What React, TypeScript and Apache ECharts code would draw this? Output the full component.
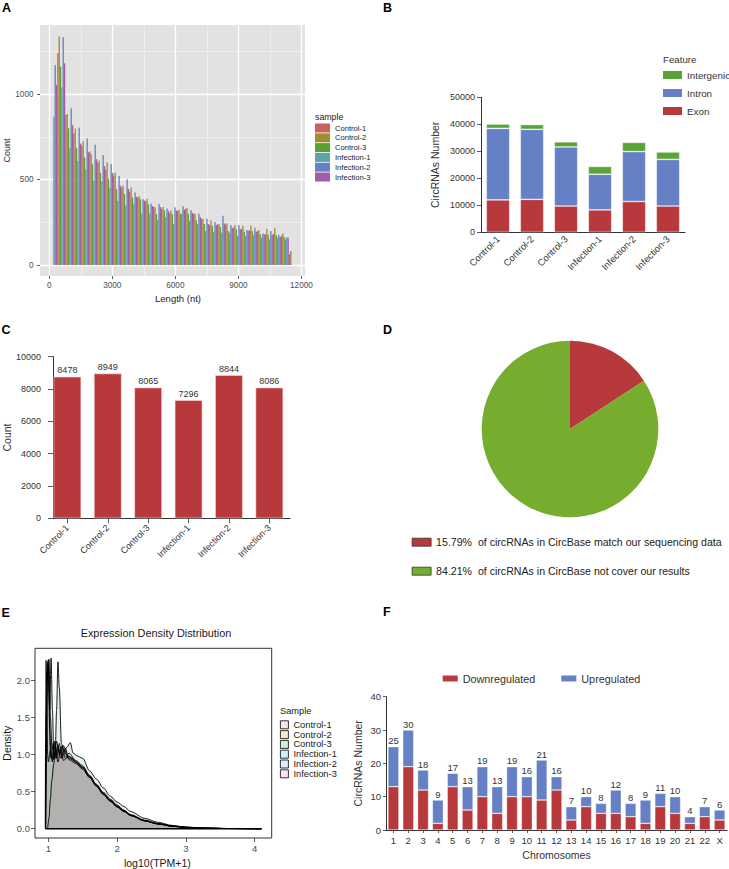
import React, { useEffect, useRef } from 'react';
import * as echarts from 'echarts';

const FONT = 'Liberation Sans, Arial, Helvetica, sans-serif';

// ---------- Panel A: length histogram (30 bins, dodged by sample) ----------
const SAMPLES = ['Control-1', 'Control-2', 'Control-3', 'Infection-1', 'Infection-2', 'Infection-3'];
const A_COLORS = ['#C9625E', '#A08D2B', '#5AA035', '#5BA6A4', '#6780C7', '#A25DA6'];
const A_SLOT = [3, 4, 5, 0, 1, 2];
const BIN_START = 190;
const BIN_WIDTH = 380;
const A_C1 = [1240, 879, 770, 700, 665, 600, 560, 525, 455, 430, 395, 372, 342, 330, 305, 318, 330, 300, 272, 235, 238, 238, 220, 212, 205, 198, 180, 182, 172, 64];
const A_C2 = [1338, 885, 800, 725, 650, 612, 600, 540, 465, 455, 405, 388, 338, 340, 320, 322, 335, 300, 270, 262, 240, 245, 235, 230, 230, 205, 212, 215, 185, 82];
const A_C3 = [1162, 801, 685, 630, 590, 540, 505, 445, 415, 395, 385, 355, 300, 320, 298, 300, 300, 262, 240, 230, 225, 200, 210, 195, 200, 180, 178, 175, 165, 0];
const A_I1 = [869, 1040, 685, 610, 560, 495, 490, 450, 375, 350, 360, 300, 300, 265, 280, 240, 300, 260, 240, 200, 195, 190, 190, 170, 170, 175, 160, 150, 160, 150];
const A_I2 = [1172, 1334, 918, 805, 742, 705, 645, 592, 521, 502, 425, 385, 361, 357, 332, 338, 344, 322, 300, 271, 252, 289, 234, 234, 205, 219, 185, 199, 178, 162];
const A_I3 = [1055, 1182, 820, 712, 660, 620, 580, 540, 465, 445, 400, 378, 345, 340, 318, 318, 325, 305, 280, 240, 235, 245, 215, 210, 200, 195, 180, 178, 165, 160];
const A_COUNTS = [A_C1, A_C2, A_C3, A_I1, A_I2, A_I3];
const A_X_TICKS = [0, 3000, 6000, 9000, 12000];
const A_X_MINOR = [1500, 4500, 7500, 10500];
const A_Y_TICKS = [0, 500, 1000];
const A_Y_MINOR = [250, 750, 1250];

// ---------- Panel B: feature composition ----------
const B_FEATURES = ['Intergenic', 'Intron', 'Exon'];
const B_COLORS = { Exon: '#B8393B', Intron: '#6580C4', Intergenic: '#5AA335' };
const B_EXON = [12000, 12200, 9750, 8300, 11400, 9750];
const B_INTRON = [26500, 25950, 21850, 13200, 18500, 17250];
const B_INTERGENIC = [1600, 1750, 1900, 2900, 3400, 2750];

// ---------- Panel C: counts ----------
const C_HEIGHT = [8760, 8960, 8090, 7310, 8860, 8090];
const C_LABEL = [8478, 8949, 8065, 7296, 8844, 8086];
const C_POS = [0, 1, 2, 3, 4, 5];

// ---------- Panel D: CircBase overlap ----------
const D_PERCENT = [15.79, 84.21];
const D_TEXT = ['of circRNAs in CircBase match our sequencing data', 'of circRNAs in CircBase not cover our results'];
const D_COLORS = ['#B8393B', '#76AD2F'];

// ---------- Panel E: expression density ----------
const E_C1 = [[0.955, 0], [0.96, 1.2], [0.967, 2.27], [0.975, 1.9], [0.99, 1.0], [1.0, 0.9], [1.03, 1.05], [1.06, 0.95], [1.1, 1.15], [1.14, 0.9], [1.18, 1.1], [1.22, 0.92], [1.3, 0.98], [1.4, 0.9], [1.5, 0.82], [1.6, 0.7], [1.7, 0.58], [1.8, 0.47], [1.9, 0.38], [2.0, 0.3], [2.1, 0.24], [2.2, 0.18], [2.4, 0.11], [2.6, 0.065], [2.8, 0.035], [3.0, 0.018], [3.3, 0.007], [3.6, 0.003], [4.1, 0]];
const E_C2 = [[0.96, 0], [0.97, 1.5], [0.98, 2.1], [0.99, 2.2], [1.0, 2.0], [1.02, 1.6], [1.04, 2.3], [1.06, 1.6], [1.08, 0.95], [1.12, 1.18], [1.16, 1.0], [1.2, 1.12], [1.25, 0.95], [1.3, 1.02], [1.4, 0.92], [1.5, 0.85], [1.6, 0.72], [1.7, 0.6], [1.8, 0.49], [1.9, 0.4], [2.0, 0.32], [2.1, 0.25], [2.2, 0.19], [2.4, 0.115], [2.6, 0.07], [2.8, 0.038], [3.0, 0.02], [3.3, 0.008], [3.6, 0.003], [4.1, 0]];
const E_C3 = [[0.96, 0], [0.975, 1.8], [0.99, 2.25], [1.0, 2.2], [1.02, 1.3], [1.04, 0.95], [1.07, 1.15], [1.1, 0.95], [1.14, 1.12], [1.18, 0.95], [1.22, 1.05], [1.3, 0.95], [1.4, 0.9], [1.5, 0.83], [1.6, 0.71], [1.7, 0.59], [1.8, 0.48], [1.9, 0.39], [2.0, 0.31], [2.1, 0.245], [2.2, 0.185], [2.4, 0.11], [2.6, 0.068], [2.8, 0.036], [3.0, 0.019], [3.3, 0.007], [3.6, 0.003], [4.1, 0]];
const E_I1 = [[0.96, 0], [0.97, 1.0], [0.99, 2.1], [1.01, 2.28], [1.03, 1.5], [1.06, 0.92], [1.1, 1.0], [1.12, 1.6], [1.14, 2.25], [1.16, 1.9], [1.19, 1.15], [1.23, 1.05], [1.27, 1.1], [1.32, 1.16], [1.36, 1.02], [1.42, 0.98], [1.5, 0.95], [1.6, 0.78], [1.7, 0.67], [1.8, 0.55], [1.9, 0.44], [2.0, 0.36], [2.1, 0.3], [2.2, 0.23], [2.4, 0.14], [2.6, 0.085], [2.8, 0.045], [3.0, 0.022], [3.3, 0.009], [3.6, 0.003], [4.1, 0]];
const E_I2 = [[0.96, 0], [0.98, 2.0], [1.0, 2.28], [1.01, 2.0], [1.03, 1.0], [1.06, 0.9], [1.09, 1.18], [1.12, 0.95], [1.16, 1.15], [1.2, 0.95], [1.25, 1.08], [1.3, 0.93], [1.4, 0.88], [1.5, 0.8], [1.6, 0.69], [1.7, 0.57], [1.8, 0.46], [1.9, 0.37], [2.0, 0.29], [2.1, 0.23], [2.2, 0.175], [2.4, 0.105], [2.6, 0.062], [2.8, 0.033], [3.0, 0.017], [3.3, 0.007], [3.6, 0.002], [4.1, 0]];
const E_I3 = [[0.99, 0], [1.01, 0.15], [1.03, 0.4], [1.05, 0.65], [1.08, 0.88], [1.1, 1.0], [1.14, 1.08], [1.18, 1.0], [1.22, 1.12], [1.28, 0.98], [1.35, 0.95], [1.4, 0.9], [1.5, 0.82], [1.6, 0.7], [1.7, 0.58], [1.8, 0.47], [1.9, 0.38], [2.0, 0.3], [2.1, 0.235], [2.2, 0.18], [2.4, 0.105], [2.6, 0.063], [2.8, 0.034], [3.0, 0.018], [3.3, 0.007], [3.6, 0.003], [4.1, 0]];
const E_CURVES = [E_C1, E_C2, E_C3, E_I1, E_I2, E_I3];
const E_KEY_HUES = ['248,118,109', '183,159,0', '0,186,56', '0,191,196', '97,156,255', '245,100,227'];
const E_AREA = ['rgba(180,120,110,0.25)', 'rgba(160,150,90,0.25)', 'rgba(110,160,110,0.25)', 'rgba(100,175,175,0.25)', 'rgba(140,140,170,0.25)', 'rgba(180,120,150,0.25)'];
const E_BASELINE = [[0.96, 0], [4.1, 0]];
const E_X_TICKS = [1, 2, 3, 4];
const E_Y_TICKS = [0, 0.5, 1, 1.5, 2];

// ---------- Panel F: DE circRNAs per chromosome ----------
const F_CHROM = ['1', '2', '3', '4', '5', '6', '7', '8', '9', '10', '11', '12', '13', '14', '15', '16', '17', '18', '19', '20', '21', '22', 'X'];
const F_DOWN = [13, 19, 12, 2, 13, 6, 10, 5, 10, 10, 9, 12, 3, 7, 5, 5, 4, 2, 7, 5, 2, 4, 3];
const F_UP = [12, 11, 6, 7, 4, 7, 9, 8, 9, 6, 12, 4, 4, 3, 3, 7, 4, 7, 4, 5, 2, 3, 3];

const AX = '#333333';
const plain = (v: number) => String(v);

function letter(t: string, x: number, y: number) {
  return { type: 'text', x, y, silent: true, style: { text: t, fontSize: 12.5, fontWeight: 'bold', fontFamily: FONT, fill: '#000', align: 'left', verticalAlign: 'middle', textAlign: 'left', textVerticalAlign: 'middle' } };
}
function label(t: string, x: number, y: number, size: number, align = 'left', color = '#1a1a1a') {
  return { type: 'text', x, y, silent: true, style: { text: t, fontSize: size, fontFamily: FONT, fill: color, align, verticalAlign: 'middle', textAlign: align, textVerticalAlign: 'middle' } };
}

function buildOption() {
  const gridLineData = [
    ...A_X_TICKS.map((v) => ({ xAxis: v, lineStyle: { color: '#ffffff', width: 1.3, type: 'solid' } })),
    ...A_X_MINOR.map((v) => ({ xAxis: v, lineStyle: { color: '#f6f6f6', width: 0.6, type: 'solid' } })),
    ...A_Y_TICKS.map((v) => ({ yAxis: v, lineStyle: { color: '#ffffff', width: 1.3, type: 'solid' } })),
    ...A_Y_MINOR.map((v) => ({ yAxis: v, lineStyle: { color: '#f6f6f6', width: 0.6, type: 'solid' } })),
  ];

  const aSeries = SAMPLES.map((name, i) => ({
    name,
    type: 'custom',
    xAxisIndex: 0,
    yAxisIndex: 0,
    z: 2,
    silent: true,
    itemStyle: { color: A_COLORS[i] },
    encode: { x: [0, 1], y: 2 },
    data: A_COUNTS[i].map((c, k) => [BIN_START + k * BIN_WIDTH, BIN_START + (k + 1) * BIN_WIDTH, c]),
    renderItem: (params: any, api: any) => {
      const p0 = api.coord([api.value(0), 0]);
      const p1 = api.coord([api.value(1), api.value(2)]);
      const w = (p1[0] - p0[0]) / SAMPLES.length;
      return {
        type: 'rect',
        shape: { x: p0[0] + A_SLOT[i] * w, y: p1[1], width: w, height: p0[1] - p1[1] },
        style: { fill: A_COLORS[i] },
      };
    },
    markLine: i === 0 ? { silent: true, symbol: 'none', z: 1, label: { show: false }, animation: false, data: gridLineData } : undefined,
  }));

  const bSeries = [
    { name: 'Exon', data: B_EXON },
    { name: 'Intron', data: B_INTRON },
    { name: 'Intergenic', data: B_INTERGENIC },
  ].map((s) => ({
    name: s.name,
    type: 'bar',
    stack: 'feature',
    xAxisIndex: 1,
    yAxisIndex: 1,
    barCategoryGap: '31%',
    silent: true,
    itemStyle: { color: (B_COLORS as any)[s.name], borderColor: 'rgba(255,255,255,0.6)', borderWidth: 0.7 },
    data: s.data,
  }));

  const cSeries = {
    name: 'Count',
    type: 'bar',
    xAxisIndex: 2,
    yAxisIndex: 2,
    barWidth: 27.7,
    silent: true,
    itemStyle: { color: '#B8393B', borderColor: 'rgba(255,220,220,0.8)', borderWidth: 0.7 },
    label: { show: true, position: 'top', distance: 2, fontSize: 9, color: '#333', fontFamily: FONT, formatter: (p: any) => String(C_LABEL[p.dataIndex]) },
    data: C_POS.map((x, i) => [x, C_HEIGHT[i]]),
  };

  const dSeries = {
    type: 'pie',
    center: [570, 429],
    radius: 88.3,
    startAngle: 90,
    clockwise: true,
    silent: true,
    label: { show: false },
    labelLine: { show: false },
    itemStyle: { borderWidth: 0 },
    data: D_PERCENT.map((v, i) => ({ value: v, name: `${v.toFixed(2)}%  ${D_TEXT[i]}`, itemStyle: { color: D_COLORS[i] } })),
  };

  const eSeries: any[] = SAMPLES.map((name, i) => ({
    name,
    type: 'line',
    xAxisIndex: 3,
    yAxisIndex: 3,
    showSymbol: false,
    symbol: 'none',
    smooth: 0.3,
    smoothMonotone: 'x',
    silent: true,
    lineStyle: { color: '#000', width: 0.9 },
    itemStyle: { color: `rgb(${E_KEY_HUES[i]})` },
    areaStyle: { color: E_AREA[i] },
    data: E_CURVES[i],
  }));
  eSeries.push({
    name: 'baseline',
    type: 'line',
    xAxisIndex: 3,
    yAxisIndex: 3,
    showSymbol: false,
    symbol: 'none',
    silent: true,
    lineStyle: { color: '#000', width: 1.3 },
    data: E_BASELINE,
  });

  const fSeries = [
    { name: 'Downregulated', data: F_DOWN, color: '#B8393B' },
    { name: 'Upregulated', data: F_UP, color: '#6580C4' },
  ].map((s, si) => ({
    name: s.name,
    type: 'bar',
    stack: 'chrom',
    xAxisIndex: 4,
    yAxisIndex: 4,
    barCategoryGap: '26%',
    silent: true,
    itemStyle: { color: s.color, borderColor: 'rgba(255,255,255,0.6)', borderWidth: 0.6 },
    label: si === 1
      ? { show: true, position: 'top', distance: 1, fontSize: 9.5, color: '#333', fontFamily: FONT, formatter: (p: any) => String(F_DOWN[p.dataIndex] + F_UP[p.dataIndex]) }
      : { show: false },
    data: s.data,
  }));

  const tick = (len: number) => ({ show: true, length: len, lineStyle: { color: AX, width: 0.8 } });

  return {
    animation: false,
    backgroundColor: '#ffffff',
    textStyle: { fontFamily: FONT },
    grid: [
      { left: 40, top: 25, width: 265, height: 251, show: true, backgroundColor: '#E2E2E2', borderWidth: 0 },
      { left: 481, top: 97.3, width: 204, height: 135 },
      { left: 52.3, top: 356.7, width: 237.7, height: 161.6 },
      { left: 33.3, top: 648.3, width: 238.4, height: 190, show: true, borderColor: AX, borderWidth: 1, backgroundColor: 'transparent' },
      { left: 386, top: 696.7, width: 341, height: 133.3 },
    ],
    xAxis: [
      {
        gridIndex: 0, type: 'value', min: -440, max: 12170,
        axisLine: { show: false, onZero: false },
        axisTick: { ...tick(3), customValues: A_X_TICKS },
        axisLabel: { customValues: A_X_TICKS, fontSize: 8.2, color: '#4D4D4D', margin: 5, formatter: plain },
        splitLine: { show: false },
        name: 'Length (nt)', nameLocation: 'middle', nameGap: 17,
        nameTextStyle: { fontSize: 9.5, color: '#1a1a1a', padding: [0, 0, 0, 11] },
      },
      {
        gridIndex: 1, type: 'category', data: SAMPLES,
        axisLine: { lineStyle: { color: AX, width: 1 } },
        axisTick: { show: false },
        axisLabel: { rotate: 45, interval: 0, fontSize: 9.4, color: '#333', margin: 5 },
      },
      {
        gridIndex: 2, type: 'value', min: -0.356, max: 5.511,
        axisLine: { show: true, onZero: false, lineStyle: { color: AX, width: 1 } },
        axisTick: { ...tick(5), customValues: C_POS },
        axisLabel: { customValues: C_POS, rotate: 45, fontSize: 9, color: '#333', margin: 8, formatter: (v: number) => SAMPLES[Math.round(v)] },
        splitLine: { show: false },
      },
      {
        gridIndex: 3, type: 'value', min: 0.806, max: 4.25,
        axisLine: { show: false, onZero: false },
        axisTick: { ...tick(4), customValues: E_X_TICKS },
        axisLabel: { customValues: E_X_TICKS, fontSize: 9.5, color: '#4D4D4D', margin: 5, formatter: plain },
        splitLine: { show: false },
        name: 'log10(TPM+1)', nameLocation: 'middle', nameGap: 19,
        nameTextStyle: { fontSize: 10.5, color: '#1a1a1a', padding: [0, 0, 0, 8] },
      },
      {
        gridIndex: 4, type: 'category', data: F_CHROM,
        axisLine: { lineStyle: { color: AX, width: 1 } },
        axisTick: { ...tick(3), alignWithLabel: true },
        axisLabel: { interval: 0, fontSize: 9.5, color: '#333', margin: 5 },
        name: 'Chromosomes', nameLocation: 'middle', nameGap: 19,
        nameTextStyle: { fontSize: 10.5, color: '#333' },
      },
    ],
    yAxis: [
      {
        gridIndex: 0, type: 'value', min: -64, max: 1406,
        axisLine: { show: false, onZero: false },
        axisTick: { ...tick(3), customValues: A_Y_TICKS },
        axisLabel: { customValues: A_Y_TICKS, fontSize: 8.2, color: '#4D4D4D', margin: 6.5, formatter: plain },
        splitLine: { show: false },
        name: 'Count', nameLocation: 'middle', nameGap: 29, nameRotate: 90,
        nameTextStyle: { fontSize: 9, color: '#1a1a1a' },
      },
      {
        gridIndex: 1, type: 'value', min: 0, max: 50000, interval: 10000,
        axisLine: { show: true, onZero: false, lineStyle: { color: AX, width: 1 } },
        axisTick: tick(4),
        axisLabel: { fontSize: 9, color: '#333', margin: 6, formatter: plain },
        splitLine: { show: false },
        name: 'CircRNAs Number', nameLocation: 'middle', nameGap: 41, nameRotate: 90,
        nameTextStyle: { fontSize: 10.5, color: '#333' },
      },
      {
        gridIndex: 2, type: 'value', min: 0, max: 10000, interval: 2000,
        axisLine: { show: true, onZero: false, lineStyle: { color: AX, width: 1 } },
        axisTick: tick(5),
        axisLabel: { fontSize: 9, color: '#333', margin: 12, formatter: plain },
        splitLine: { show: false },
        name: 'Count', nameLocation: 'middle', nameGap: 41, nameRotate: 90,
        nameTextStyle: { fontSize: 10.5, color: '#333' },
      },
      {
        gridIndex: 3, type: 'value', min: -0.125, max: 2.432,
        axisLine: { show: false, onZero: false },
        axisTick: { ...tick(4), customValues: E_Y_TICKS },
        axisLabel: { customValues: E_Y_TICKS, fontSize: 9.5, color: '#4D4D4D', margin: 5, formatter: (v: number) => v.toFixed(1) },
        splitLine: { show: false },
        name: 'Density', nameLocation: 'middle', nameGap: 23, nameRotate: 90,
        nameTextStyle: { fontSize: 10.5, color: '#1a1a1a' },
      },
      {
        gridIndex: 4, type: 'value', min: 0, max: 40, interval: 10,
        axisLine: { show: true, onZero: false, lineStyle: { color: AX, width: 1 } },
        axisTick: tick(3),
        axisLabel: { fontSize: 9.5, color: '#333', margin: 5, formatter: plain },
        splitLine: { show: false },
        name: 'CircRNAs Number', nameLocation: 'middle', nameGap: 23, nameRotate: 90,
        nameTextStyle: { fontSize: 10.5, color: '#333' },
      },
    ],
    legend: [
      {
        left: 315, top: 123.5, orient: 'vertical', padding: 0, icon: 'rect', selectedMode: false,
        itemWidth: 15, itemHeight: 9, itemGap: 0.8,
        textStyle: { fontSize: 7.6, color: '#1a1a1a', lineHeight: 9 },
        data: SAMPLES.map((n, i) => ({ name: n, itemStyle: { color: A_COLORS[i], borderWidth: 0 } })),
      },
      {
        left: 663, top: 70, orient: 'vertical', padding: 0, icon: 'rect', selectedMode: false,
        itemWidth: 19, itemHeight: 8, itemGap: 8,
        textStyle: { fontSize: 9.8, color: '#333', lineHeight: 8 },
        data: B_FEATURES.map((n) => ({ name: n, itemStyle: { color: (B_COLORS as any)[n], borderWidth: 0 } })),
      },
      {
        left: 411.7, top: 536.7, orient: 'vertical', padding: 0, icon: 'rect', selectedMode: false,
        itemWidth: 19, itemHeight: 8, itemGap: 18,
        textStyle: { fontSize: 10.6, color: '#222', lineHeight: 8 },
        data: D_PERCENT.map((v, i) => ({ name: `${v.toFixed(2)}%  ${D_TEXT[i]}`, itemStyle: { color: D_COLORS[i], borderColor: '#333', borderWidth: 0.8 } })),
      },
      {
        left: 280, top: 720.3, orient: 'vertical', padding: 0, icon: 'rect', selectedMode: false,
        itemWidth: 8, itemHeight: 8, itemGap: 0.8,
        textStyle: { fontSize: 9.3, color: '#1a1a1a', lineHeight: 8 },
        data: SAMPLES.map((n, i) => ({ name: n, itemStyle: { color: `rgba(${E_KEY_HUES[i]},0.2)`, borderColor: '#000', borderWidth: 0.8 } })),
      },
      {
        left: 442.7, top: 673, orient: 'horizontal', padding: 0, icon: 'rect', selectedMode: false,
        itemWidth: 15, itemHeight: 6, itemGap: 26,
        textStyle: { fontSize: 10.8, color: '#333', lineHeight: 6 },
        data: [
          { name: 'Downregulated', itemStyle: { color: '#B8393B', borderWidth: 0 } },
          { name: 'Upregulated', itemStyle: { color: '#6580C4', borderWidth: 0 } },
        ],
      },
    ],
    graphic: [
      letter('A', 2, 7.5),
      letter('B', 383, 7.5),
      letter('C', 1.5, 330),
      letter('D', 383, 330),
      letter('E', 1.5, 613),
      letter('F', 383, 612),
      label('sample', 315, 117, 8.8),
      label('Feature', 663, 59, 9.7, 'left', '#333'),
      label('Sample', 280, 711, 9.3),
      label('Expression Density Distribution', 156, 633.3, 10.9, 'center'),
    ],
    series: [...aSeries, ...bSeries, cSeries, dSeries, ...eSeries, ...fSeries],
  };
}

export default function App() {
  const ref = useRef<HTMLDivElement>(null);
  useEffect(() => {
    if (!ref.current) return;
    const chart = echarts.init(ref.current, null, { renderer: 'svg' });
    chart.setOption(buildOption() as any);
    return () => chart.dispose();
  }, []);
  return <div ref={ref} style={{ position: 'absolute', left: 0, top: 0, width: 729, height: 869, background: '#fff' }} />;
}
